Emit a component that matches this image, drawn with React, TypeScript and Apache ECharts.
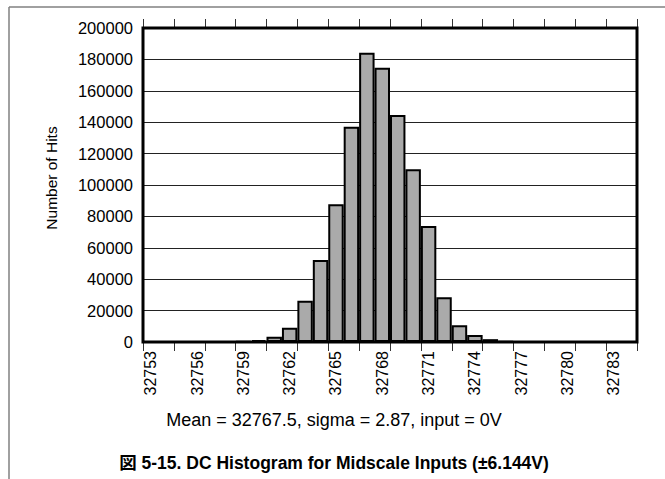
import React, { useEffect, useRef } from "react";
import * as echarts from "echarts";

// Output codes, one bin per code
const codes: string[] = [
  "32753", "32754", "32755", "32756", "32757", "32758", "32759", "32760",
  "32761", "32762", "32763", "32764", "32765", "32766", "32767", "32768",
  "32769", "32770", "32771", "32772", "32773", "32774", "32775", "32776",
  "32777", "32778", "32779", "32780", "32781", "32782", "32783", "32784",
];

// Hits recorded for each code
const hits: number[] = [
  0, 0, 0, 0, 0, 50, 300, 1200,
  3300, 9100, 26300, 52200, 87700, 137100, 184300, 174700,
  144600, 110000, 73900, 28500, 10700, 4500, 1800, 400,
  50, 0, 0, 0, 0, 0, 0, 0,
];

const yMin = 0;
const yMax = 200000;
const yStep = 20000;

const yAxisName = "Number of Hits";
const statsText = "Mean = 32767.5, sigma = 2.87, input = 0V";
const captionText = "図 5-15. DC Histogram for Midscale Inputs (±6.144V)";

const FONT = '"Liberation Sans", Arial, "Noto Sans CJK JP", sans-serif';

export default function App() {
  const ref = useRef<HTMLDivElement>(null);

  useEffect(() => {
    if (!ref.current) return;
    const chart = echarts.init(ref.current, undefined, { renderer: "svg" });

    const option: echarts.EChartsOption = {
      animation: false,
      backgroundColor: "#ffffff",
      textStyle: { fontFamily: FONT },
      grid: {
        left: 143,
        top: 28,
        width: 494,
        height: 314,
        show: true,
        borderColor: "#000000",
        borderWidth: 3,
        backgroundColor: "transparent",
        z: 3,
      },
      xAxis: [
        {
          type: "category",
          data: codes,
          position: "bottom",
          boundaryGap: true,
          axisLine: { show: false },
          axisTick: {
            show: true,
            interval: 1,
            alignWithLabel: false,
            inside: false,
            length: 9,
            lineStyle: { color: "#333333", width: 1 },
          },
          axisLabel: {
            interval: 2,
            rotate: 90,
            margin: 9,
            color: "#000000",
            fontSize: 16,
            fontFamily: FONT,
          },
          splitLine: { show: false },
        },
        {
          type: "category",
          data: codes,
          position: "top",
          boundaryGap: true,
          axisLine: { show: false },
          axisTick: {
            show: true,
            interval: 1,
            alignWithLabel: false,
            inside: false,
            length: 9,
            lineStyle: { color: "#333333", width: 1 },
          },
          axisLabel: { show: false },
          splitLine: { show: false },
        },
      ],
      yAxis: {
        type: "value",
        min: yMin,
        max: yMax,
        interval: yStep,
        axisLine: { show: false },
        axisTick: { show: false },
        axisLabel: {
          margin: 10,
          color: "#000000",
          fontSize: 16.5,
          fontFamily: FONT,
          formatter: (v: number) => String(v),
        },
        splitLine: { show: true, lineStyle: { color: "#222222", width: 1 } },
      },
      series: [
        {
          type: "bar",
          xAxisIndex: 0,
          data: hits,
          barCategoryGap: "0%",
          itemStyle: {
            color: "#aaaaaa",
            borderColor: "#000000",
            borderWidth: 2,
          },
          z: 2,
        },
      ],
      graphic: [
        {
          type: "line",
          shape: { x1: 9, y1: 7, x2: 665, y2: 7 },
          style: { stroke: "#808080", lineWidth: 1.5 },
        },
        {
          type: "line",
          shape: { x1: 9, y1: 7, x2: 9, y2: 479 },
          style: { stroke: "#808080", lineWidth: 1.5 },
        },
        {
          type: "text",
          x: 51,
          y: 178,
          rotation: Math.PI / 2,
          style: {
            text: yAxisName,
            fontSize: 15.5,
            fontFamily: FONT,
            fill: "#000000",
            align: "center",
            verticalAlign: "middle",
          },
        },
        {
          type: "text",
          x: 334,
          y: 420,
          style: {
            text: statsText,
            fontSize: 18,
            fontFamily: FONT,
            fill: "#000000",
            align: "center",
            verticalAlign: "middle",
          },
        },
        {
          type: "text",
          x: 334,
          y: 463,
          style: {
            text: captionText,
            fontSize: 17.5,
            fontWeight: "bold",
            fontFamily: FONT,
            fill: "#000000",
            align: "center",
            verticalAlign: "middle",
          },
        },
      ],
    };

    chart.setOption(option);
    return () => chart.dispose();
  }, []);

  return (
    <div
      ref={ref}
      style={{ position: "fixed", left: 0, top: 0, width: 665, height: 479 }}
    />
  );
}
